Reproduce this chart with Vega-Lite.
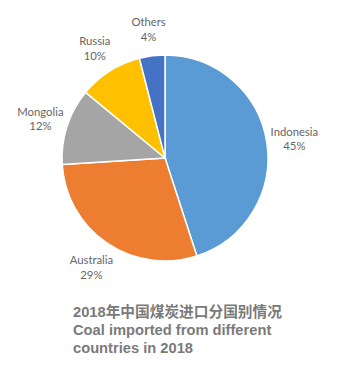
{
  "$schema": "https://vega.github.io/schema/vega-lite/v6.json",
  "width": 330,
  "height": 316,
  "autosize": "none",
  "padding": {"left": 0, "top": 0, "right": 25, "bottom": 52},
  "background": "white",
  "view": {"stroke": null},
  "data": {
    "values": [
      {"country": "Indonesia", "value": 45, "i": 1},
      {"country": "Australia", "value": 29, "i": 2},
      {"country": "Mongolia", "value": 12, "i": 3},
      {"country": "Russia", "value": 10, "i": 4},
      {"country": "Others", "value": 4, "i": 5}
    ]
  },
  "transform": [
    {"calculate": "datum.country + '\\n' + datum.value + '%'", "as": "label"}
  ],
  "title": {
    "text": ["2018年中国煤炭进口分国别情况", "Coal imported from different", "countries in 2018"],
    "orient": "bottom",
    "anchor": "start",
    "frame": "group",
    "dx": 73,
    "offset": -11,
    "font": "Liberation Sans, Noto Sans CJK SC",
    "fontSize": 14.7,
    "fontWeight": "bold",
    "lineHeight": 18,
    "color": "#7a7a7a"
  },
  "encoding": {
    "theta": {"field": "value", "type": "quantitative", "stack": true},
    "order": {"field": "i", "type": "quantitative"}
  },
  "layer": [
    {
      "mark": {"type": "arc", "outerRadius": 103, "stroke": "white", "strokeWidth": 1.5},
      "encoding": {
        "color": {
          "field": "country",
          "type": "nominal",
          "sort": null,
          "scale": {
            "domain": ["Indonesia", "Australia", "Mongolia", "Russia", "Others"],
            "range": ["#5B9BD5", "#ED7D31", "#A5A5A5", "#FFC000", "#4472C4"]
          },
          "legend": null
        }
      }
    },
    {
      "mark": {
        "type": "text",
        "radius": 131,
        "dy": -5,
        "lineBreak": "\n",
        "font": "Lato",
        "fontSize": 11.3,
        "lineHeight": 14.5,
        "color": "#666666",
        "align": "center",
        "baseline": "middle"
      },
      "encoding": {
        "text": {"field": "label", "type": "nominal"}
      }
    }
  ]
}
